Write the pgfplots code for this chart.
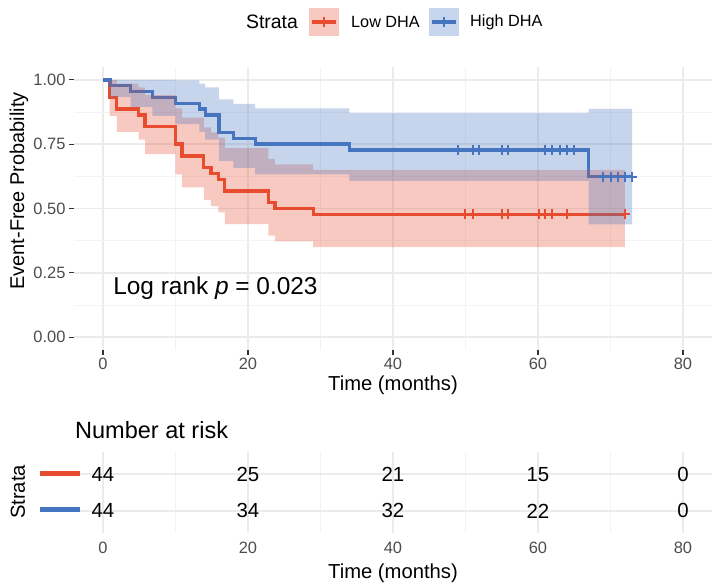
\documentclass[border=0pt]{standalone}
\usepackage{pgfplots}
\pgfplotsset{compat=1.18}
\usepackage{pgfplotstable}
\usepackage{fontspec}
\setmainfont{Liberation Sans}

\definecolor{lowc}{RGB}{231,76,46}
\definecolor{highc}{RGB}{69,117,193}
\definecolor{gridmaj}{RGB}{235,235,235}
\definecolor{gridmin}{RGB}{243,243,243}
\definecolor{ticklab}{RGB}{77,77,77}

\newcommand\ticksize{\fontsize{16.5}{18}\selectfont}
\newcommand\titlesize{\fontsize{20.3}{22}\selectfont}
\newcommand\ylabsize{\fontsize{20}{22}\selectfont}
\newcommand\lrsize{\fontsize{24.5}{26}\selectfont}
\newcommand\legsize{\fontsize{16.3}{18}\selectfont}
\newcommand\legtitle{\fontsize{19.5}{21}\selectfont}
\newcommand\nrsize{\fontsize{23.6}{25}\selectfont}
\newcommand\risksize{\fontsize{20.5}{22}\selectfont}

% Kaplan-Meier estimates, Low DHA
\pgfplotstableread{
t    s
0    1
0.9  0.9318
1.9  0.8864
4.9  0.8636
5.8  0.8182
10.0 0.7500
10.9 0.7045
13.9 0.6591
14.9 0.6364
15.9 0.6136
16.8 0.5682
22.8 0.5227
23.7 0.5000
29.0 0.4773
72.0 0.4773
}\lowsurv
% 95% confidence band, Low DHA: upper limit forward, lower limit back
\pgfplotstableread{
t    y
0    1
1.9  1
1.9  0.9853
4.9  0.9853
4.9  0.9712
5.8  0.9712
5.8  0.9405
10.0 0.9405
10.0 0.8895
10.9 0.8895
10.9 0.8531
13.9 0.8531
13.9 0.8152
14.9 0.8152
14.9 0.7957
15.9 0.7957
15.9 0.7757
16.8 0.7757
16.8 0.7351
22.8 0.7351
22.8 0.6933
23.7 0.6933
23.7 0.6719
29.0 0.6719
29.0 0.6502
72.0 0.6502
72.0 0.3503
29.0 0.3503
29.0 0.3721
23.7 0.3721
23.7 0.3941
22.8 0.3941
22.8 0.4392
16.8 0.4392
16.8 0.4854
15.9 0.4854
15.9 0.5090
14.9 0.5090
14.9 0.5329
13.9 0.5329
13.9 0.5818
10.9 0.5818
10.9 0.6324
10.0 0.6324
10.0 0.7118
5.8  0.7118
5.8  0.7679
4.9  0.7679
4.9  0.7974
1.9  0.7974
1.9  0.8602
0.9  0.8602
0.9  1
0    1
}\lowband
% censored observations, Low DHA
\pgfplotstableread{
t    s
50.0 0.4773
51.0 0.4773
55.0 0.4773
55.9 0.4773
60.1 0.4773
61.0 0.4773
61.9 0.4773
64.0 0.4773
72.0 0.4773
}\lowcens

% Kaplan-Meier estimates, High DHA
\pgfplotstableread{
t    s
0    1
1.0  0.9773
3.8  0.9545
6.8  0.9318
10.0 0.9091
13.3 0.8864
14.1 0.8636
16.0 0.7955
18.0 0.7727
21.0 0.7500
34.0 0.7273
67.0 0.6234
73.0 0.6234
}\highsurv
% 95% confidence band, High DHA: upper limit forward, lower limit back
\pgfplotstableread{
t    y
0    1
10.0 1
10.0 0.9980
13.3 0.9980
13.3 0.9853
14.1 0.9853
14.1 0.9712
16.0 0.9712
16.0 0.9241
18.0 0.9241
18.0 0.9070
21.0 0.9070
21.0 0.8895
34.0 0.8895
34.0 0.8716
67.0 0.8716
67.0 0.8868
73.0 0.8868
73.0 0.4382
67.0 0.4382
67.0 0.6069
34.0 0.6069
34.0 0.6324
21.0 0.6324
21.0 0.6583
18.0 0.6583
18.0 0.6848
16.0 0.6848
16.0 0.7679
14.1 0.7679
14.1 0.7974
13.3 0.7974
13.3 0.8280
10.0 0.8280
10.0 0.8602
6.8  0.8602
6.8  0.8950
3.8  0.8950
3.8  0.9342
1.0  0.9342
1.0  1
0    1
}\highband
% censored observations, High DHA
\pgfplotstableread{
t    s
48.9 0.7273
51.0 0.7273
51.9 0.7273
55.0 0.7273
55.9 0.7273
61.0 0.7273
61.9 0.7273
63.0 0.7273
64.0 0.7273
65.0 0.7273
69.0 0.6234
70.1 0.6234
71.1 0.6234
72.0 0.6234
73.0 0.6234
}\highcens

% number at risk
\pgfplotstableread{
t  row n
0  2   44
20 2   25
40 2   21
60 2   15
80 2   0
}\lowrisk
\pgfplotstableread{
t  row n
0  1   44
20 1   34
40 1   32
60 1   22
80 1   0
}\highrisk

\begin{document}
\begin{tikzpicture}
\path[use as bounding box] (0,0) rectangle (712bp,586bp);

% legend
\node[font=\legtitle] at (272bp,564bp) {Strata};
\fill[lowc!30] (309bp,550bp) rectangle (339bp,578bp);
\draw[lowc, line width=3.4bp] (312bp,564bp) -- (336bp,564bp);
\draw[lowc, line width=2bp] (324bp,559bp) -- (324bp,569bp);
\node[anchor=west, font=\legsize, inner sep=0pt] at (351bp,564bp) {Low DHA};
\fill[highc!30] (429bp,550bp) rectangle (459bp,578bp);
\draw[highc, line width=3.4bp] (432bp,564bp) -- (456bp,564bp);
\draw[highc, line width=2bp] (444bp,559bp) -- (444bp,569bp);
\node[anchor=west, font=\legsize, inner sep=0pt] at (470bp,564bp) {High DHA};

\begin{axis}[
  at={(74bp,236bp)}, anchor=south west,
  width=638bp, height=283bp, scale only axis,
  xmin=-4, xmax=84, ymin=-0.05, ymax=1.05,
  axis line style={draw=none},
  xtick={0,20,40,60,80}, xticklabels={0,20,40,60,80},
  minor xtick={10,30,50,70},
  ytick={0,0.25,0.5,0.75,1}, yticklabels={0.00,0.25,0.50,0.75,1.00},
  minor ytick={0.125,0.375,0.625,0.875},
  xtick pos=bottom, ytick pos=left,
  tick align=outside, major tick length=5bp, minor tick length=0bp,
  tick style={draw=black!80, line width=1.1bp},
  grid=both,
  major grid style={draw=gridmaj, line width=1.5bp},
  minor grid style={draw=gridmin, line width=0.8bp},
  tick label style={font=\ticksize, text=ticklab},
  /pgf/number format/assume math mode=true,
]
\addplot[lowc, line width=3.4bp, const plot, forget plot] table[x=t, y=s] {\lowsurv};
\addplot[highc, line width=3.4bp, const plot, forget plot] table[x=t, y=s] {\highsurv};

\addplot[fill=lowc, fill opacity=0.3, draw=none, forget plot] table[x=t, y=y] {\lowband} -- cycle;
\addplot[fill=highc, fill opacity=0.3, draw=none, forget plot] table[x=t, y=y] {\highband} -- cycle;

\addplot[only marks, mark=+, mark size=5bp, mark options={draw=lowc, line width=2bp}, forget plot] table[x=t, y=s] {\lowcens};
\addplot[only marks, mark=+, mark size=5bp, mark options={draw=highc, line width=2bp}, forget plot] table[x=t, y=s] {\highcens};

\node[anchor=base west, font=\lrsize, inner sep=0pt] at (axis cs:1.4,0.164) {Log rank \textit{p} = 0.023};
\end{axis}

\node[rotate=90, font=\ylabsize] at (19bp,395bp) {Event-Free Probability};
\node[font=\titlesize] at (393bp,201bp) {Time (months)};

% number at risk table
\node[anchor=west, font=\nrsize, inner sep=0pt] at (75bp,156bp) {Number at risk};
\begin{axis}[
  at={(74bp,53bp)}, anchor=south west,
  width=638bp, height=81bp, scale only axis,
  xmin=-4, xmax=84, ymin=0.4, ymax=2.6,
  axis line style={draw=none},
  xtick={0,20,40,60,80}, xticklabels={0,20,40,60,80},
  minor xtick={10,30,50,70},
  ytick={1,2}, yticklabels={,},
  major tick length=0bp, minor tick length=0bp,
  grid=both,
  major grid style={draw=gridmaj, line width=1.5bp},
  minor grid style={draw=gridmin, line width=0.8bp},
  xticklabel style={font=\ticksize, text=ticklab, yshift=-6bp},
  /pgf/number format/assume math mode=true,
]
\addplot[scatter, only marks, mark=text, text mark={}, point meta=explicit symbolic,
  scatter/@pre marker code/.code={\node[font=\risksize, inner sep=0pt] {\pgfplotspointmeta};},
  scatter/@post marker code/.code={}]
  table[x=t, y=row, meta=n] {\lowrisk};
\addplot[scatter, only marks, mark=text, text mark={}, point meta=explicit symbolic,
  scatter/@pre marker code/.code={\node[font=\risksize, inner sep=0pt] {\pgfplotspointmeta};},
  scatter/@post marker code/.code={}]
  table[x=t, y=row, meta=n] {\highrisk};
\end{axis}
\draw[lowc, line width=5bp] (40bp,112bp) -- (80bp,112bp);
\draw[highc, line width=5bp] (40bp,76bp) -- (80bp,76bp);
\node[rotate=90, font=\titlesize] at (18bp,94bp) {Strata};
\node[font=\titlesize] at (393bp,13bp) {Time (months)};
\end{tikzpicture}
\end{document}
